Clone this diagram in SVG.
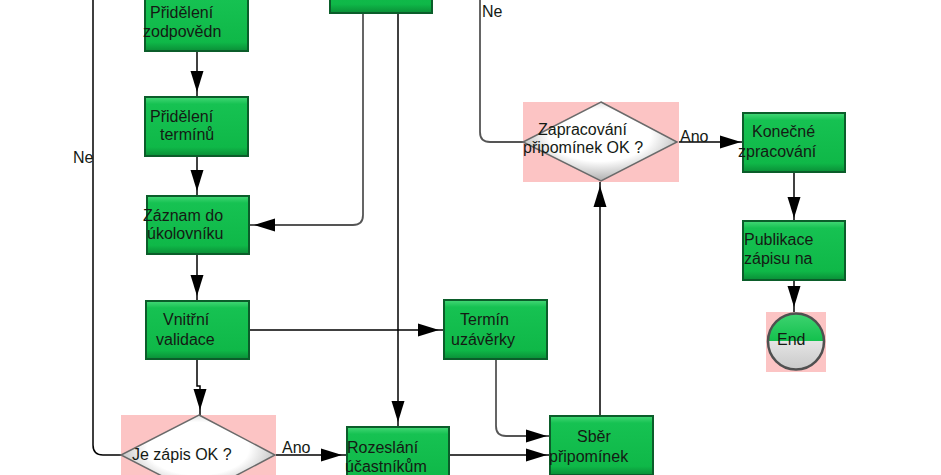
<svg xmlns="http://www.w3.org/2000/svg" width="941" height="475" viewBox="0 0 941 475">
<style>
.box{fill:url(#gBox);stroke:#0b5d2a;stroke-width:2}
.dia{fill:url(#gDia);stroke:#6a6a6a;stroke-width:1.5}
.bg{fill:#fcc4c4}
.t{font-family:"Liberation Sans",Arial,sans-serif;font-size:16px;fill:#141a14}
.c{fill:none;stroke:#000;stroke-width:1.5}
.g{fill:none;stroke:#555;stroke-width:1.8}
</style>
<defs>
<linearGradient id="gBox" x1="0" y1="0" x2="0" y2="1">
<stop offset="0" stop-color="#45d877"/>
<stop offset="0.12" stop-color="#16c252"/>
<stop offset="0.85" stop-color="#0fb848"/>
<stop offset="1" stop-color="#0a8e37"/>
</linearGradient>
<radialGradient id="gDia" cx="0.5" cy="0.42" r="0.6">
<stop offset="0.55" stop-color="#ffffff"/>
<stop offset="1" stop-color="#a8a8a8"/>
</radialGradient>
<linearGradient id="gEnd" x1="0" y1="0" x2="0" y2="1">
<stop offset="0" stop-color="#3fd371"/>
<stop offset="0.5" stop-color="#12c04c"/>
<stop offset="0.5" stop-color="#e4e4e4"/>
<stop offset="1" stop-color="#c9c9c9"/>
</linearGradient>
<marker id="a" markerUnits="userSpaceOnUse" viewBox="-27 -7 27 14" refX="0" refY="0" markerWidth="27" markerHeight="14" orient="auto">
<path d="M-26,-6.5 L-5,0 L-26,6.5 z" fill="#000"/>
</marker>
</defs>

<g id="connectors">
<path class="c" d="M93,0 V445 Q93,455 103,455 H121"/>
<path class="c" d="M197,51 V97" marker-end="url(#a)"/>
<path class="c" d="M197,156 V196" marker-end="url(#a)"/>
<path class="g" d="M363,13 V215 Q363,225 353,225 H249" marker-end="url(#a)"/>
<path class="c" d="M398,13 V427" marker-end="url(#a)"/>
<path class="c" d="M197,254 V301" marker-end="url(#a)"/>
<path class="c" d="M249,330 H444" marker-end="url(#a)"/>
<path class="c" d="M197,359 V386 H200 V415" marker-end="url(#a)"/>
<path class="c" d="M276,455 H347" marker-end="url(#a)"/>
<path class="g" d="M496,359 V426 Q496,436 506,436 H552" marker-end="url(#a)"/>
<path class="c" d="M449,455 H552" marker-end="url(#a)"/>
<path class="c" d="M600,416 V181" marker-end="url(#a)"/>
<path class="g" d="M480,0 V132 Q480,142 490,142 H523"/>
<path class="c" d="M679,142 H746" marker-end="url(#a)"/>
<path class="c" d="M794,172 V223" marker-end="url(#a)"/>
<path class="c" d="M794,280 V312" marker-end="url(#a)"/>
<text class="t" x="73" y="163">Ne</text>
<text class="t" x="482" y="17">Ne</text>
<text class="t" x="282" y="453">Ano</text>
<text class="t" x="680" y="142">Ano</text>
</g>

<g id="n-pridelenizodp">
<rect class="box" x="145" y="-8" width="103" height="59"/>
<text class="t" x="150" y="18">Přidělení</text>
<text class="t" x="143" y="37">zodpovědn</text>
</g>
<g id="n-top">
<rect class="box" x="330" y="-46" width="102" height="59"/>
</g>
<g id="n-pridelaniterm">
<rect class="box" x="145" y="97" width="103" height="59"/>
<text class="t" x="150" y="122">Přidělení</text>
<text class="t" x="160" y="140">termínů</text>
</g>
<g id="n-zaznam">
<rect class="box" x="147" y="196" width="102" height="58"/>
<text class="t" x="143" y="221">Záznam do</text>
<text class="t" x="147" y="239">úkolovníku</text>
</g>
<g id="n-vnitrni">
<rect class="box" x="146" y="301" width="103" height="58"/>
<text class="t" x="163" y="325">Vnitřní</text>
<text class="t" x="156" y="345">validace</text>
</g>
<g id="n-termin">
<rect class="box" x="444" y="300" width="103" height="59"/>
<text class="t" x="460" y="325">Termín</text>
<text class="t" x="451" y="345">uzávěrky</text>
</g>
<g id="n-rozeslani">
<rect class="box" x="347" y="427" width="102" height="59"/>
<text class="t" x="347" y="453">Rozeslání</text>
<text class="t" x="345" y="472">účastníkům</text>
</g>
<g id="n-sber">
<rect class="box" x="550" y="416" width="103" height="59"/>
<text class="t" x="577" y="442">Sběr</text>
<text class="t" x="549" y="462">připomínek</text>
</g>
<g id="n-konecne">
<rect class="box" x="743" y="113" width="102" height="59"/>
<text class="t" x="752" y="137">Konečné</text>
<text class="t" x="738" y="157">zpracování</text>
</g>
<g id="n-publikace">
<rect class="box" x="743" y="221" width="102" height="59"/>
<text class="t" x="744" y="245">Publikace</text>
<text class="t" x="744" y="264">zápisu na</text>
</g>
<g id="n-end">
<rect class="bg" x="766" y="312" width="60" height="60"/>
<circle cx="796" cy="341.5" r="28" fill="url(#gEnd)" stroke="#505050" stroke-width="2.5"/>
<text class="t" x="777" y="345">End</text>
</g>
<g id="n-zapracovani">
<rect class="bg" x="523" y="102" width="156" height="80"/>
<polygon class="dia" points="601,102 677,142 601,181 523,142"/>
<text class="t" x="538" y="135">Zapracování</text>
<text class="t" x="523" y="153">připomínek OK ?</text>
</g>
<g id="n-jezapis">
<rect class="bg" x="121" y="415" width="155" height="80"/>
<polygon class="dia" points="199,415 275,455 199,495 121,455"/>
<text class="t" x="132" y="460">Je zápis OK ?</text>
</g>
</svg>
